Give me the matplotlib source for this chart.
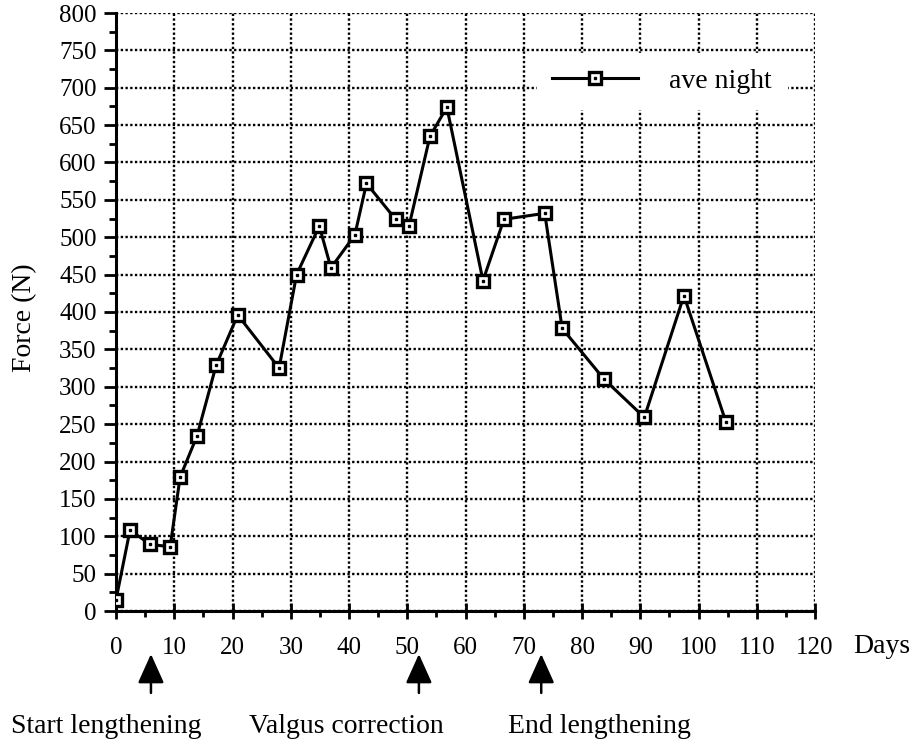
import matplotlib
matplotlib.use("Agg")
import matplotlib.pyplot as plt
from matplotlib.ticker import MultipleLocator

# ---- data ----
days = [0, 2.4, 5.9, 9.3, 11, 13.9, 17.2, 20.9, 28, 31, 34.9, 36.9, 41, 43,
        48, 50.3, 53.9, 56.8, 63, 66.6, 73.6, 76.6, 83.8, 90.7, 97.5, 104.7]
force = [15, 108, 89, 86, 179, 234, 329, 396, 325, 450, 515, 459, 503, 572,
         524, 515, 635, 674, 442, 524, 532, 378, 310, 259, 422, 253]
series_label = "ave night"
event_days = [6, 52, 73]
event_labels = ["Start lengthening", "Valgus correction", "End lengthening"]
x_label = "Days"
y_label = "Force (N)"

plt.rcParams['font.family'] = ['Liberation Serif', 'DejaVu Serif']

fig = plt.figure(figsize=(9.13, 7.47), dpi=100)
ax = fig.add_axes([116/913, 136/747, 699/913, 598/747])

ax.set_xlim(0, 120)
ax.set_ylim(0, 800)
ax.xaxis.set_major_locator(MultipleLocator(10))
ax.xaxis.set_minor_locator(MultipleLocator(5))
ax.yaxis.set_major_locator(MultipleLocator(50))
ax.yaxis.set_minor_locator(MultipleLocator(25))

ax.grid(True, which='major', color='black', linestyle=(0, (1, 1)), linewidth=1.7)
ax.set_axisbelow(True)

for s in ['top', 'right']:
    ax.spines[s].set_visible(False)
for s in ['left', 'bottom']:
    ax.spines[s].set_linewidth(2.2)

ax.tick_params(axis='x', which='major', direction='inout', length=11, width=2,
               labelsize=18, pad=13)
ax.tick_params(axis='x', which='minor', direction='out', length=4, width=2)
ax.tick_params(axis='y', which='major', direction='out', length=9, width=2,
               labelsize=18, pad=5)
ax.tick_params(axis='y', which='minor', direction='out', length=5, width=2)

line, = ax.plot(days, force, color='black', linewidth=2.2, marker='s',
                markersize=9, markerfacecolor='white', markeredgecolor='black',
                markeredgewidth=2.4, zorder=3)
dots, = ax.plot(days, force, linestyle='none', marker='s', markersize=1.6,
                color='black', zorder=4)

leg = ax.legend([(line, dots)], [series_label], loc='upper left',
                bbox_to_anchor=(0.602, 0.933), borderaxespad=0, fontsize=20,
                handlelength=3.1, handletextpad=1.1, borderpad=0.55,
                frameon=True, fancybox=False, framealpha=1, edgecolor='white',
                facecolor='white')

ax.set_ylabel(y_label, fontsize=20)
ax.yaxis.set_label_coords(-0.113, 0.49)
ax.text(1.054, -0.06, x_label, transform=ax.transAxes, fontsize=20,
        ha='left', va='center')

trans = ax.get_xaxis_transform()
for d in event_days:
    ax.annotate('', xy=(d, -0.072), xycoords=trans, xytext=(d, -0.137),
                textcoords=trans, annotation_clip=False,
                arrowprops=dict(arrowstyle='-|>,head_length=1.0,head_width=0.45',
                                color='black', lw=1.8, mutation_scale=18,
                                shrinkA=0, shrinkB=0))

label_x = [-0.014, 0.329, 0.692]
for lx, txt in zip(label_x, event_labels):
    ax.text(lx, -0.193, txt, transform=ax.transAxes, fontsize=20,
            ha='center', va='center')

fig.savefig('out.png', dpi=100)
